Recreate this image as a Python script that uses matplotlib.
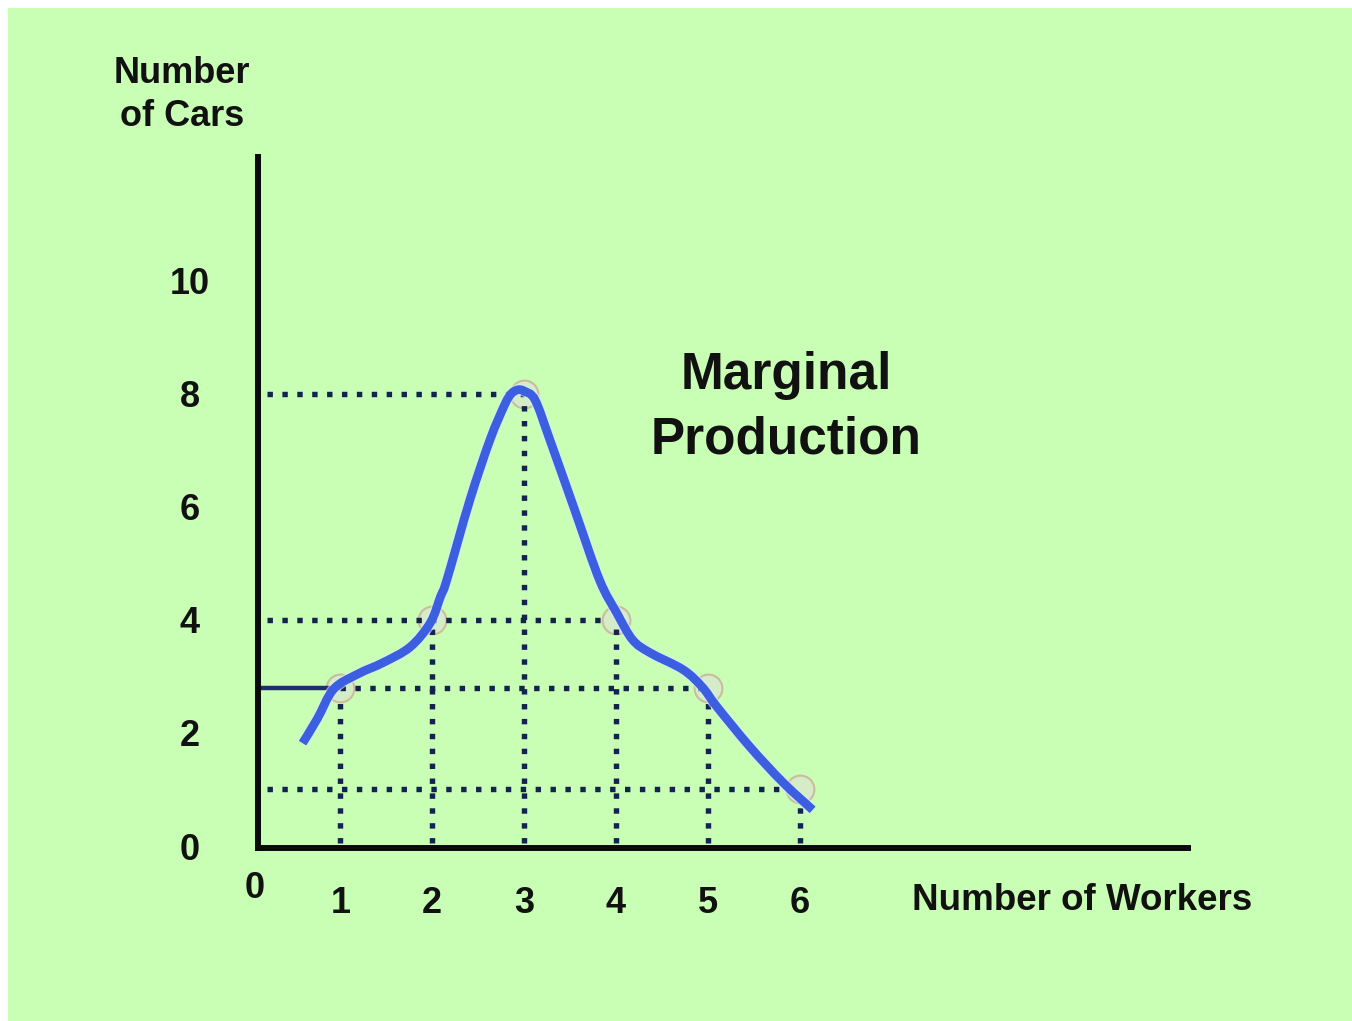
import matplotlib
matplotlib.use("Agg")
import matplotlib.pyplot as plt
from matplotlib.patches import Rectangle, PathPatch
from matplotlib.path import Path
import matplotlib.patheffects as pe

# ---- data ----
workers = [1, 2, 3, 4, 5, 6]
marginal = [2.8, 4, 8, 4, 2.8, 1]
y_ticks = [0, 2, 4, 6, 8, 10]
y_tick_labels = ["0", "2", "4", "6", "8", "10"]
x_tick_labels = ["1", "2", "3", "4", "5", "6"]
# hand-drawn marginal production curve (traced)
curve_x = [0.59, 0.75, 0.93, 1.20, 1.46, 1.76, 1.98, 2.09, 2.16, 2.41, 2.63,
           2.79, 2.86, 2.93, 3.00, 3.12, 3.28, 3.55, 3.82, 4.01, 4.18, 4.37,
           4.73, 4.94, 5.10, 5.46, 5.82, 6.14]
curve_y = [1.82, 2.25, 2.78, 3.05, 3.24, 3.52, 3.95, 4.41, 4.71, 6.12, 7.19,
           7.81, 8.00, 8.07, 8.05, 7.89, 7.19, 5.95, 4.71, 4.12, 3.65, 3.42,
           3.12, 2.81, 2.46, 1.75, 1.12, 0.64]

W, H = 1352, 1021
plt.rcParams['font.family'] = ['Liberation Sans', 'DejaVu Sans']

fig = plt.figure(figsize=(W / 100, H / 100), dpi=100)
fig.patch.set_facecolor("white")
fig.patches.append(Rectangle((8 / W, 0), 1 - 8 / W, 1 - 8 / H, transform=fig.transFigure,
                             facecolor="#C8FFB4", edgecolor="none", zorder=-5))

ax = fig.add_axes([258 / W, (H - 848) / H, (1188 - 258) / W, (848 - 157) / H])
ax.set_zorder(2)
ax.set_facecolor("none")
ax.set_xlim(0.105, 10.224)
ax.set_ylim(-0.035, 12.19)
for s in ["top", "right"]:
    ax.spines[s].set_visible(False)
for s in ["left", "bottom"]:
    ax.spines[s].set_linewidth(4.3)
    ax.spines[s].set_color("#0a0a0a")
    ax.spines[s].set_capstyle("projecting")

dot_color = "#14224F"
dot_kw = dict(color=dot_color, linewidth=3.9, linestyle=(0, (1, 1.75)), zorder=2,
              dash_capstyle="butt")

x0 = 0.2
# horizontal dotted guides
ax.plot([x0, workers[2]], [marginal[2]] * 2, **dot_kw)
ax.plot([x0, workers[3] - 0.15], [marginal[1]] * 2, **dot_kw)
ax.plot([workers[0], workers[4]], [marginal[0]] * 2, **dot_kw)
ax.plot([x0, workers[5]], [marginal[5]] * 2, **dot_kw)
# vertical dotted guides
for w, m in zip(workers, marginal):
    ax.plot([w, w], [0.05, m - 0.15], **dot_kw)

# solid segment at level of worker 1
ax.plot([0.105, workers[0]], [marginal[0]] * 2, color="#1E2D6E", linewidth=3.2,
        solid_capstyle="butt", zorder=2)

# faint circle markers
ax.plot(workers, marginal, linestyle="none", marker="o", markersize=20,
        markerfacecolor="#D4EDC8", markeredgecolor="#CDBB9E", markeredgewidth=1.5,
        zorder=1)

# smooth curve through the traced points (Catmull-Rom -> cubic Bezier path)
verts = [(curve_x[0], curve_y[0])]
codes = [Path.MOVETO]
n = len(curve_x)
for i in range(n - 1):
    p0 = (curve_x[max(i - 1, 0)], curve_y[max(i - 1, 0)])
    p1 = (curve_x[i], curve_y[i])
    p2 = (curve_x[i + 1], curve_y[i + 1])
    p3 = (curve_x[min(i + 2, n - 1)], curve_y[min(i + 2, n - 1)])
    c1 = (p1[0] + (p2[0] - p0[0]) / 6, p1[1] + (p2[1] - p0[1]) / 6)
    c2 = (p2[0] - (p3[0] - p1[0]) / 6, p2[1] - (p3[1] - p1[1]) / 6)
    verts += [c1, c2, p2]
    codes += [Path.CURVE4] * 3
curve = PathPatch(Path(verts, codes), facecolor="none", edgecolor="#3B5FE0",
                  linewidth=6.3, capstyle="butt", joinstyle="round", zorder=3,
                  path_effects=[pe.Stroke(linewidth=8.3, foreground="#DCEBFF", alpha=0.6),
                                pe.Normal()])
ax.add_patch(curve)

ax.set_yticks(y_ticks)
ax.set_yticklabels(y_tick_labels, fontsize=26, fontweight="bold", color="#111111")
for lbl in ax.get_yticklabels():
    lbl.set_horizontalalignment("center")
ax.tick_params(axis="y", length=0, pad=49)

ax.set_xticks(workers)
ax.set_xticklabels(x_tick_labels, fontsize=26, fontweight="bold", color="#111111")
ax.tick_params(axis="x", length=0, pad=27)

ax.text(0.07, -0.75, "0", fontsize=26, fontweight="bold", color="#111111",
        ha="center", va="center")

fig.text(182 / W, 1 - 95 / H, "Number\nof Cars", fontsize=26, fontweight="bold",
         color="#111111", ha="center", va="center", linespacing=1.3)
fig.text(1082 / W, 1 - 900 / H, "Number of Workers", fontsize=26.5, fontweight="bold",
         color="#111111", ha="center", va="center")
fig.text(786 / W, 1 - 408 / H, "Marginal\nProduction", fontsize=37, fontweight="bold",
         color="#111111", ha="center", va="center", linespacing=1.4)

fig.savefig("out.png", dpi=100)
